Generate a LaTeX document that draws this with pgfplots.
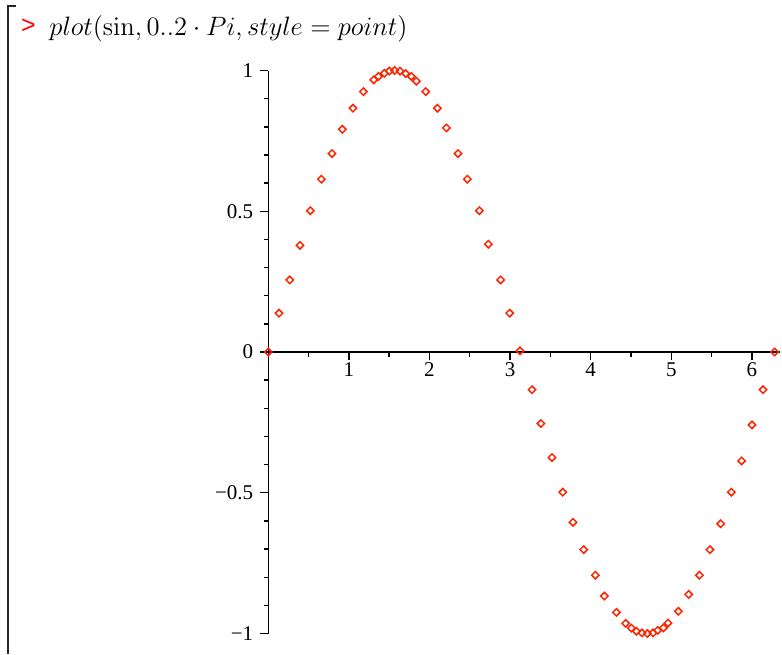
\documentclass[border=0pt]{standalone}
\usepackage[no-math]{fontspec}
\usepackage{pgfplots}
\pgfplotsset{compat=1.18}
\newfontfamily\ticksfont{Liberation Serif}
\newfontfamily\promptfont{Liberation Sans}
\definecolor{ptred}{RGB}{255,36,0}

% sample points of sin on [0, 2*pi]
\pgfplotstableread{
x y
0.000 0.000
0.133 0.138
0.266 0.256
0.393 0.379
0.522 0.502
0.659 0.614
0.790 0.705
0.919 0.791
1.051 0.866
1.180 0.925
1.308 0.967
1.366 0.979
1.440 0.990
1.502 0.998
1.568 1.000
1.634 0.998
1.705 0.989
1.775 0.979
1.837 0.962
1.953 0.925
2.098 0.866
2.210 0.796
2.354 0.705
2.470 0.614
2.619 0.502
2.731 0.383
2.883 0.256
2.995 0.138
3.123 0.004
3.272 -0.134
3.383 -0.254
3.520 -0.375
3.653 -0.498
3.780 -0.605
3.913 -0.702
4.058 -0.793
4.170 -0.867
4.319 -0.925
4.434 -0.964
4.505 -0.981
4.567 -0.992
4.637 -0.998
4.703 -1.000
4.773 -0.998
4.831 -0.989
4.902 -0.980
4.959 -0.963
5.088 -0.921
5.216 -0.861
5.349 -0.793
5.480 -0.702
5.613 -0.610
5.746 -0.498
5.873 -0.387
6.001 -0.259
6.138 -0.134
6.283 0.000
}\sinpts

\begin{document}
\begin{tikzpicture}
\path[use as bounding box] (0pt,0pt) rectangle (391pt,327pt);

% worksheet group bracket
\draw[line width=0.7pt, black!85] (8pt,324pt) -- (4pt,324pt) -- (4pt,0pt);

% input prompt and command
\node[anchor=base west, text=red, inner sep=0pt] at (10.3pt,310.3pt)
  {\promptfont\fontsize{12.5}{14}\selectfont >};
\node[anchor=base west, inner sep=0pt, scale=1.108] at (24.5pt,309pt)
  {\fontsize{12}{14}\selectfont $plot(\sin, 0..2\cdot Pi, style = point)$};

\begin{axis}[
  anchor=south west,
  at={(134.15pt,10.25pt)},
  scale only axis,
  width=255.9pt, height=281.5pt,
  xmin=0, xmax=6.35, ymin=-1, ymax=1,
  axis lines=middle,
  axis line style={-, line width=0.75pt, black},
  clip=false,
  tick align=outside,
  major tick length=4pt,
  minor tick length=2.4pt,
  every tick/.style={line width=0.7pt, black},
  hide obscured x ticks=false,
  hide obscured y ticks=false,
  xtick={1,2,3,4,5,6},
  minor xtick={0.5,1.5,2.5,3.5,4.5,5.5},
  ytick={-1,-0.5,0,0.5,1},
  yticklabels={−1,−0.5,0,0.5,1},
  minor ytick={-0.9,-0.8,-0.7,-0.6,-0.4,-0.3,-0.2,-0.1,0.1,0.2,0.3,0.4,0.6,0.7,0.8,0.9},
  /pgf/number format/assume math mode=true,
  ticklabel style={font=\ticksfont\fontsize{10.5}{12}\selectfont},
  yticklabel style={xshift=0pt},
  xticklabel style={yshift=2pt},
]
\addplot[only marks, mark=square, mark size=1.3pt,
  mark options={rotate=45, draw=ptred, line width=0.75pt, fill=none}]
  table[x=x, y=y] {\sinpts};
\end{axis}
\end{tikzpicture}
\end{document}
